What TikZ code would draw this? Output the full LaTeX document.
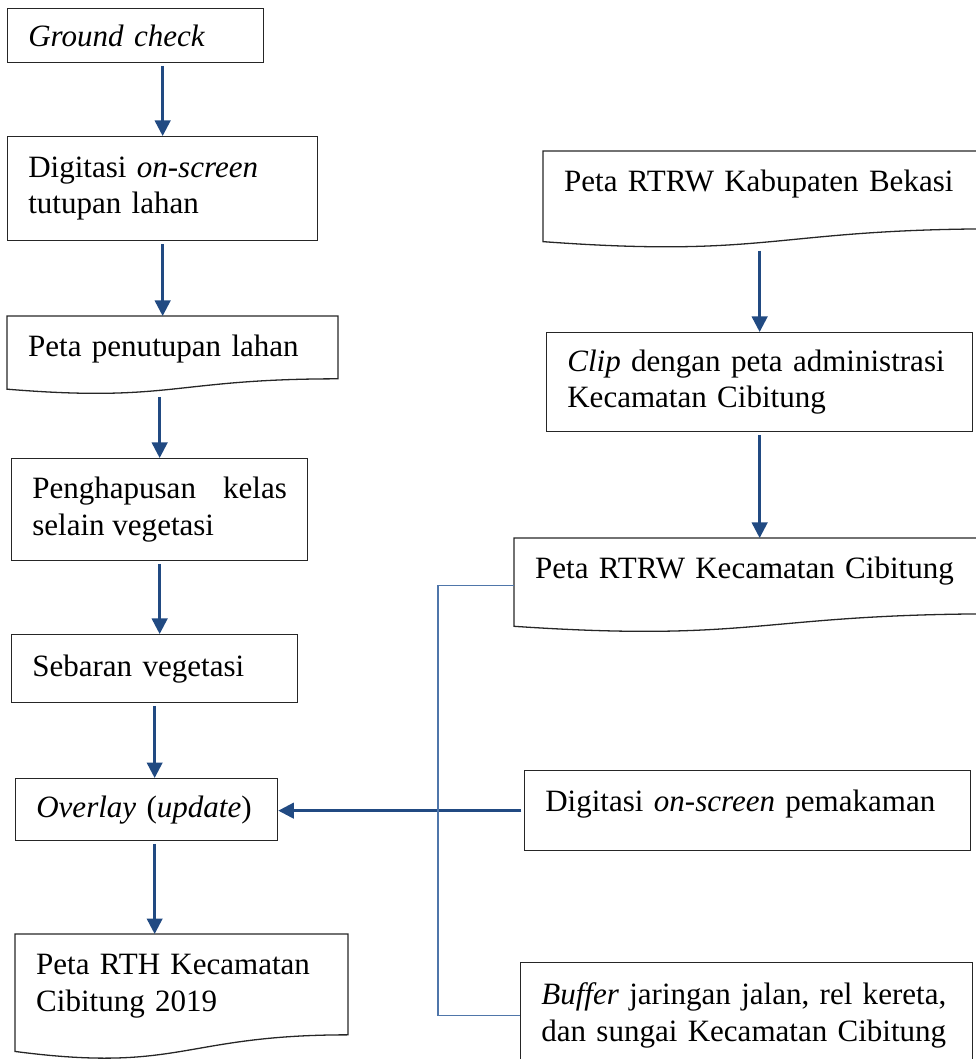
\documentclass[tikz,border=0pt]{standalone}
\usepackage{fontspec}
\setmainfont{Liberation Serif}
\usetikzlibrary{arrows.meta,calc}

\definecolor{arrowblue}{RGB}{33,74,130}
\definecolor{linkblue}{RGB}{79,118,170}
\newcommand{\pxu}{0.0136cm}

\tikzset{
  box/.style 2 args={draw=black!85, line width=0.5pt, anchor=north west, align=left,
    inner xsep=8pt, inner ysep=0pt, font=\fontsize{12}{14.2}\selectfont,
    execute at begin node={\hyphenpenalty=10000\exhyphenpenalty=10000},
    text width=#1*\pxu-16pt, minimum width=#1*\pxu, minimum height=#2*\pxu},
  doc/.style 2 args={anchor=north west, align=left, inner xsep=8pt, inner ysep=0pt,
    font=\fontsize{12}{14.2}\selectfont,
    execute at begin node={\hyphenpenalty=10000\exhyphenpenalty=10000},
    text width=#1*\pxu-16pt, text height=15.5pt, text depth=#2*\pxu-15.5pt},
  frame/.style={draw=black!85, line width=0.5pt},
  arr/.style={->, draw=arrowblue, line width=1pt, shorten <=1pt},
  link/.style={draw=linkblue, line width=0.6pt},
}

\begin{document}
\begin{tikzpicture}[x=\pxu, y=-\pxu, >={Triangle[length=6pt, width=6pt]}]

    % 1. Khung hình
    \path[use as bounding box, clip] (0,0) rectangle (976,1059);

    % 2. Cột bên trái
    \node[box={256}{54}] (gc) at (7,8) {\textit{Ground check}};
    \node[box={310}{104}] (dig) at (7,136) {Digitasi \textit{on-screen}\\tutupan lahan};
    \node[doc={330}{77.3}] (pp) at (7,316) {Peta~penutupan~lahan};
    \node[box={296}{102}, align=justify] (hap) at (11,458) {Penghapusan kelas selain vegetasi};
    \node[box={286}{68}] (seb) at (11,634) {Sebaran vegetasi};
    \node[box={262}{62}] (ovl) at (15,778) {\textit{Overlay}~(\textit{update})};
    \node[doc={332}{124.7}] (rth) at (15,934) {Peta~RTH~Kecamatan\\Cibitung~2019};

    % 3. Cột bên phải
    \node[doc={457}{96}] (kab) at (543,151) {Peta~RTRW~Kabupaten~Bekasi};
    \node[box={426}{99}] (clip) at (546,332) {\textit{Clip}~dengan~peta~administrasi\\Kecamatan~Cibitung};
    \node[doc={486}{93.5}] (kec) at (514,538) {Peta~RTRW~Kecamatan~Cibitung};
    \node[box={446}{80}, text depth=8pt] (mak) at (524,770) {Digitasi~\textit{on-screen}~pemakaman};
    \node[box={452}{106}] (buf) at (520,962) {\textit{Buffer}~jaringan~jalan,~rel~kereta,\\dan~sungai~Kecamatan~Cibitung};

    % 4. Viền dạng tài liệu (đáy lượn sóng)
    \foreach \d in {pp,rth,kab,kec}
      \draw[frame] (\d.north west) -- (\d.north east)
        -- ($(\d.north east)!0.802!(\d.south east)$)
        .. controls ($(\d.north)!0.802!(\d.south)$) and ($(\d.north)!1.1075!(\d.south)$)
        .. ($(\d.north west)!0.934!(\d.south west)$) -- cycle;

    % 5. Các mũi tên
    \draw[arr] (gc.south -| dig.north) -- (dig.north);
    \draw[arr] (dig.south) -- (dig.south |- pp.north);
    \draw[arr] (pp.south -| hap.north) -- (hap.north);
    \draw[arr] (hap.south) -- (hap.south |- seb.north);
    \draw[arr] (seb.south) -- (seb.south |- ovl.north);
    \draw[arr] (ovl.south -| seb.south) -- (rth.north -| seb.south);

    \draw[arr] (kab.south -| clip.north) -- (clip.north);
    \draw[arr] (clip.south) -- (clip.south |- kec.north);
    \draw[arr] (mak.west) -- (mak.west -| ovl.east);

    % 6. Đường nối
    \draw[link] (kec.west) -- ++(-76,0) |- (buf.west);

\end{tikzpicture}
\end{document}
